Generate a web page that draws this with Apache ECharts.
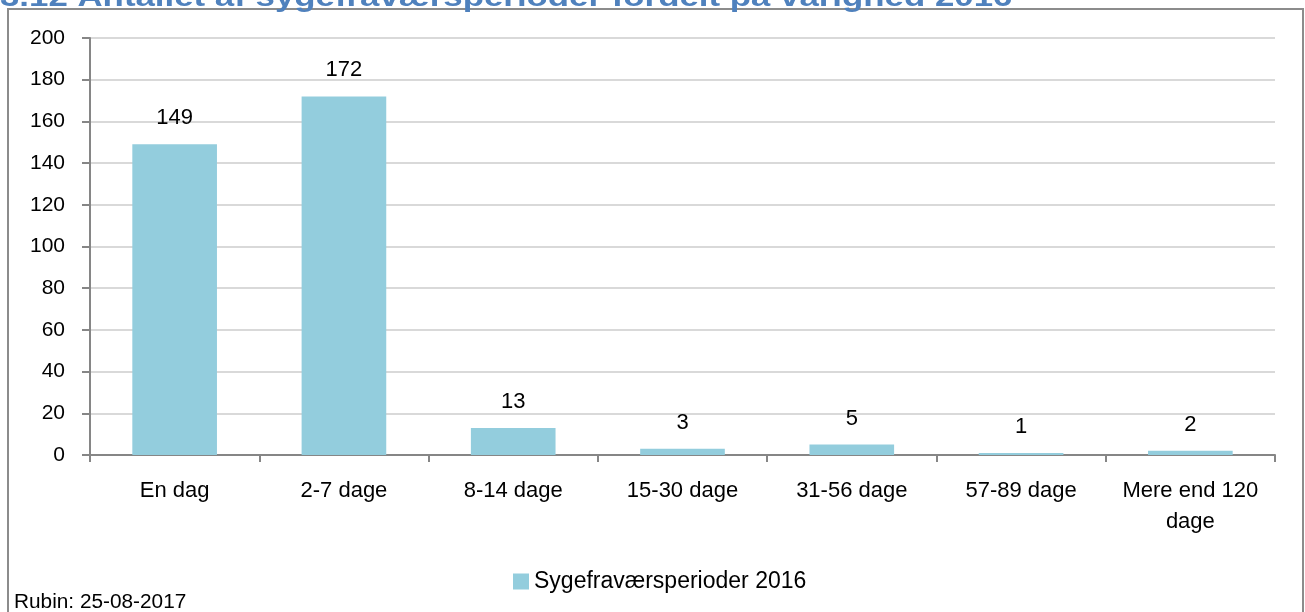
<!DOCTYPE html>
<html>
<head>
<meta charset="utf-8">
<script src="https://cdn.jsdelivr.net/npm/echarts@6/dist/echarts.min.js"></script>
<style>html,body{margin:0;padding:0;background:#fff}#c{width:1305px;height:612px}</style>
</head>
<body>
<div id="c"></div>
<script>
const categories = ['En dag', '2-7 dage', '8-14 dage', '15-30 dage', '31-56 dage', '57-89 dage', 'Mere end 120\ndage'];
const values = [149, 172, 13, 3, 5, 1, 2];
const seriesName = 'Sygefraværsperioder 2016';
const titleText = '3.12 Antallet af sygefraværsperioder fordelt på varighed 2016';
const footText = 'Rubin: 25-08-2017';

const chart = echarts.init(document.getElementById('c'));
const font = 'Arial, "Liberation Sans", sans-serif';
chart.setOption({
  animation: false,
  textStyle: { fontFamily: font },
  graphic: [
    { type: 'rect', shape: { x: 8, y: 9, width: 1295, height: 640 }, style: { fill: 'none', stroke: '#8c8c8c', lineWidth: 2 }, z: -1 },
    { type: 'text', x: 0, y: -15, scaleX: 1.29, style: { text: titleText, font: 'bold 27px ' + font, fill: '#4F81BD', verticalAlign: 'top' } },
    { type: 'text', x: 14, y: 592, scaleX: 1.04, style: { text: footText, font: '20px ' + font, fill: '#000', verticalAlign: 'top' } }
  ],
  legend: {
    data: [seriesName],
    left: 508, top: 565,
    itemWidth: 16, itemHeight: 16, itemGap: 5,
    icon: 'rect',
    textStyle: { fontSize: 23, color: '#000', fontFamily: font }
  },
  grid: { left: 90, right: 30, top: 38, bottom: 157 },
  xAxis: {
    type: 'category',
    data: categories,
    axisLine: { lineStyle: { color: '#868686', width: 2 } },
    axisTick: { show: true, length: 7, alignWithLabel: false, lineStyle: { color: '#868686', width: 2 } },
    axisLabel: { color: '#000', fontSize: 22, margin: 20, lineHeight: 31, interval: 0 }
  },
  yAxis: {
    type: 'value',
    min: 0, max: 200, interval: 20,
    axisLine: { show: true, lineStyle: { color: '#868686', width: 2 } },
    axisTick: { show: true, length: 8, lineStyle: { color: '#868686', width: 2 } },
    axisLabel: { color: '#000', fontSize: 21, margin: 25 },
    splitLine: { lineStyle: { color: '#d9d9d9', width: 2 } }
  },
  series: [{
    name: seriesName,
    type: 'bar',
    data: values,
    barWidth: '50%',
    itemStyle: { color: '#93CDDD' },
    label: { show: true, position: 'top', distance: 15, color: '#000', fontSize: 22 }
  }]
});
</script>
</body>
</html>
